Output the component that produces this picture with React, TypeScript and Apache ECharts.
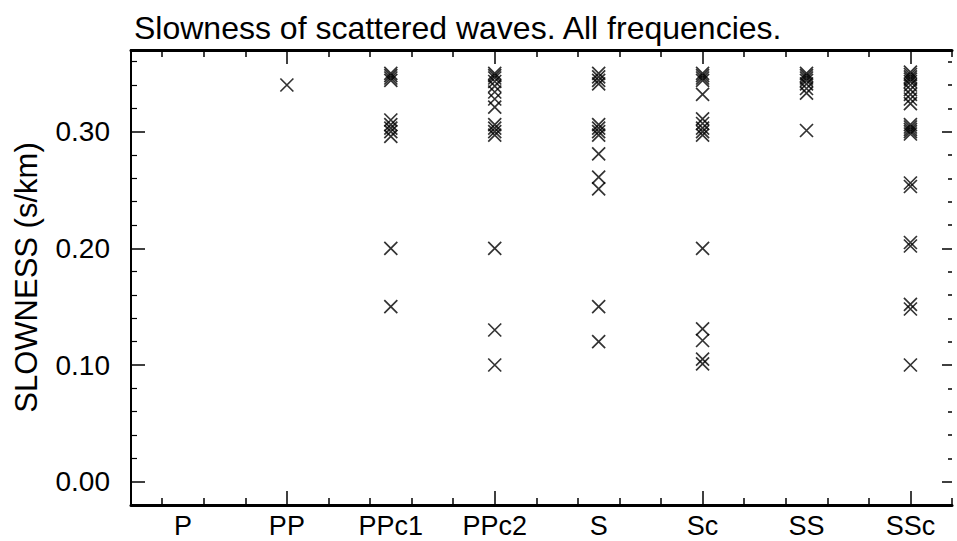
import React, { useEffect, useRef } from "react";
import * as echarts from "echarts";

const categories = ["P", "PP", "PPc1", "PPc2", "S", "Sc", "SS", "SSc"];

const pValues: number[] = [];
const ppValues = [0.34];
const ppc1Values = [0.35, 0.348, 0.346, 0.344, 0.31, 0.306, 0.303, 0.3, 0.296, 0.2, 0.15];
const ppc2Values = [0.35, 0.348, 0.346, 0.343, 0.339, 0.334, 0.328, 0.321, 0.306, 0.303, 0.3, 0.297, 0.2, 0.13, 0.1];
const sValues = [0.35, 0.347, 0.344, 0.341, 0.306, 0.303, 0.3, 0.297, 0.281, 0.261, 0.251, 0.15, 0.12];
const scValues = [0.35, 0.348, 0.346, 0.344, 0.332, 0.311, 0.307, 0.303, 0.3, 0.297, 0.2, 0.131, 0.121, 0.105, 0.101];
const ssValues = [0.35, 0.348, 0.346, 0.344, 0.341, 0.337, 0.333, 0.301];
const sscValues = [0.351, 0.349, 0.347, 0.345, 0.343, 0.34, 0.336, 0.332, 0.328, 0.324, 0.306, 0.304, 0.302, 0.3, 0.298, 0.256, 0.253, 0.205, 0.202, 0.152, 0.148, 0.1];

const columns = [pValues, ppValues, ppc1Values, ppc2Values, sValues, scValues, ssValues, sscValues];

const yTickLabels = [0, 0.1, 0.2, 0.3];
const yMinorTicks = [0.02, 0.04, 0.06, 0.08, 0.12, 0.14, 0.16, 0.18, 0.22, 0.24, 0.26, 0.28, 0.32, 0.34, 0.36];
const xMajorTicks = [2, 4, 6, 8];
const xMinorTicks = [0.8, 1.2, 1.6, 2.4, 2.8, 3.2, 3.6, 4.4, 4.8, 5.2, 5.6, 6.4, 6.8, 7.2, 7.6, 8.4];
const xLabelPositions = [1, 2, 3, 4, 5, 6, 7, 8];

const FONT = "'Liberation Sans', Arial, Helvetica, sans-serif";

export default function App() {
  const ref = useRef<HTMLDivElement>(null);
  useEffect(() => {
    if (!ref.current) return;
    const chart = echarts.init(ref.current, undefined, { renderer: "svg" });
    const data: number[][] = [];
    columns.forEach((vals, i) => vals.forEach((v) => data.push([i + 1, v])));

    const xBase = (position: "top" | "bottom") => ({
      type: "value" as const,
      min: 0.5,
      max: 8.4,
      position,
      splitLine: { show: false },
      axisLine: { show: false, onZero: false, lineStyle: { color: "#000", width: 3 } },
      axisLabel: { show: false },
    });
    const yBase = (position: "left" | "right") => ({
      type: "value" as const,
      min: -0.02,
      max: 0.37,
      position,
      splitLine: { show: false },
      axisLine: { show: false, onZero: false, lineStyle: { color: "#000", width: 2 } },
      axisLabel: { show: false },
    });

    chart.setOption({
      animation: false,
      backgroundColor: "#fff",
      title: {
        text: "Slowness of scattered waves. All frequencies.",
        left: 129,
        top: 7,
        textStyle: { fontFamily: FONT, fontSize: 32, fontWeight: "normal", color: "#000" },
      },
      grid: { left: 131, right: 5, top: 50, bottom: 36, containLabel: false },
      xAxis: [
        {
          ...xBase("bottom"),
          axisLine: { show: true, onZero: false, lineStyle: { color: "#000", width: 3 } },
          axisTick: { show: true, inside: true, length: 7, customValues: xMinorTicks, lineStyle: { color: "#000", width: 1.5 } },
          axisLabel: {
            show: true,
            customValues: xLabelPositions,
            formatter: (v: number) => categories[Math.round(v) - 1] ?? "",
            fontFamily: FONT,
            fontSize: 27,
            color: "#000",
            margin: 7,
          },
        },
        {
          ...xBase("bottom"),
          axisTick: { show: true, inside: true, length: 14, customValues: xMajorTicks, lineStyle: { color: "#000", width: 1.5 } },
        },
        {
          ...xBase("top"),
          axisLine: { show: true, onZero: false, lineStyle: { color: "#000", width: 3 } },
          axisTick: { show: true, inside: true, length: 7, customValues: xMinorTicks, lineStyle: { color: "#000", width: 1.5 } },
        },
        {
          ...xBase("top"),
          axisTick: { show: true, inside: true, length: 14, customValues: xMajorTicks, lineStyle: { color: "#000", width: 1.5 } },
        },
      ],
      yAxis: [
        {
          ...yBase("left"),
          axisLine: { show: true, onZero: false, lineStyle: { color: "#000", width: 2 } },
          axisTick: { show: true, inside: true, length: 6, customValues: yMinorTicks, lineStyle: { color: "#000", width: 1.2 } },
          axisLabel: {
            show: true,
            customValues: yTickLabels,
            formatter: (v: number) => v.toFixed(2),
            fontFamily: FONT,
            fontSize: 28,
            color: "#000",
            margin: 21,
          },
          name: "SLOWNESS (s/km)",
          nameLocation: "middle",
          nameRotate: 90,
          nameGap: 89,
          nameTextStyle: { fontFamily: FONT, fontSize: 31, color: "#000" },
        },
        {
          ...yBase("left"),
          axisTick: { show: true, inside: true, length: 14, customValues: yTickLabels, lineStyle: { color: "#000", width: 1.5 } },
        },
        {
          ...yBase("right"),
          axisTick: { show: true, inside: true, length: 4, customValues: yMinorTicks, lineStyle: { color: "#000", width: 1.5 } },
        },
        {
          ...yBase("right"),
          axisTick: { show: true, inside: true, length: 10, customValues: yTickLabels, lineStyle: { color: "#000", width: 1.5 } },
        },
      ],
      series: [
        {
          type: "scatter",
          xAxisIndex: 0,
          yAxisIndex: 0,
          symbol: "path://M0,0L10,10M10,0L0,10",
          symbolSize: 13,
          itemStyle: { color: "transparent", borderColor: "#000", borderWidth: 1.7 },
          data,
        },
      ],
    });
    return () => chart.dispose();
  }, []);
  return <div ref={ref} style={{ position: "fixed", left: 0, top: 0, width: 957, height: 541 }} />;
}
